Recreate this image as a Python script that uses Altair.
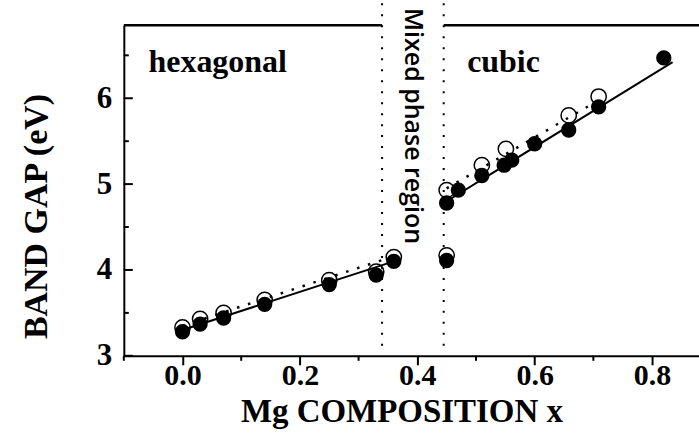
import altair as alt
import pandas as pd

# ---- data ----
filled_x = [0.0, 0.03, 0.07, 0.14, 0.25, 0.33, 0.36, 0.45, 0.45, 0.47, 0.51, 0.548, 0.561, 0.60, 0.658, 0.709, 0.82]
filled_y = [3.28, 3.37, 3.44, 3.60, 3.83, 3.94, 4.10, 4.11, 4.78, 4.93, 5.10, 5.22, 5.28, 5.47, 5.63, 5.90, 6.47]
open_x = [0.0, 0.03, 0.07, 0.14, 0.25, 0.33, 0.36, 0.45, 0.45, 0.51, 0.551, 0.658, 0.709]
open_y = [3.33, 3.43, 3.50, 3.65, 3.88, 3.98, 4.15, 4.17, 4.93, 5.22, 5.41, 5.80, 6.02]

solid_fit_x = [0.0, 0.36, 0.45, 0.835]
solid_fit_y = [3.30, 4.10, 4.80, 6.42]
solid_fit_seg = ["hex", "hex", "cub", "cub"]
dotted_fit_x = [0.0, 0.36, 0.45, 0.72]
dotted_fit_y = [3.35, 4.16, 4.95, 6.02]
dotted_fit_seg = ["hex", "hex", "cub", "cub"]

phase_bounds = [0.34, 0.445]
border_start = [-0.1, 0.445]
border_end = [0.34, 0.88]

x_ticks = [0.0, 0.2, 0.4, 0.6, 0.8]
x_minor = [-0.1, 0.1, 0.3, 0.5, 0.7]
y_ticks = [3, 4, 5, 6]
y_minor = [3.5, 4.5, 5.5, 6.5]

phase_labels = ["hexagonal", "cubic"]
phase_label_x = [-0.058, 0.485]
phase_label_y = [6.30, 6.30]
region_label = ["Mixed phase region"]
region_label_x = [0.3925]
region_label_y = [7.05]

W, H = 576, 331
SERIF = "Liberation Serif"

xs = alt.Scale(domain=[-0.1, 0.88], nice=False, zero=False)
ys = alt.Scale(domain=[3, 6.85], nice=False, zero=False)

pts_f = pd.DataFrame({"x": filled_x, "y": filled_y})
pts_o = pd.DataFrame({"x": open_x, "y": open_y})
fit_s = pd.DataFrame({"x": solid_fit_x, "y": solid_fit_y, "seg": solid_fit_seg})
fit_d = pd.DataFrame({"x": dotted_fit_x, "y": dotted_fit_y, "seg": dotted_fit_seg})
bounds = pd.DataFrame({"x": phase_bounds})
border = pd.DataFrame({"x": border_start, "x2": border_end})
xminor = pd.DataFrame({"x": x_minor})
ymajor = pd.DataFrame({"y": y_ticks})
yminor = pd.DataFrame({"y": y_minor})
labels = pd.DataFrame({"t": phase_labels, "x": phase_label_x, "y": phase_label_y})
region = pd.DataFrame({"t": region_label, "x": region_label_x, "y": region_label_y})

x_axis = alt.Axis(
    values=x_ticks, format=".1f", title="Mg COMPOSITION x", grid=False,
    tickSize=9, tickWidth=2, tickColor="black",
    domainWidth=2, domainColor="black",
    labelFont=SERIF, labelFontWeight="bold", labelFontSize=30, labelColor="black",
    labelBaseline="alphabetic", labelPadding=20, labelFlush=False, labelOverlap=False,
    titleFont=SERIF, titleFontWeight="bold", titleFontSize=33, titleColor="black",
    titleBaseline="alphabetic", titleAlign="center", titleX=278, titleY=66,
)
y_axis = alt.Axis(
    values=y_ticks, format="d", title="BAND GAP (eV)", grid=False,
    ticks=False, tickSize=0,
    domainWidth=2, domainColor="black",
    labelFont=SERIF, labelFontWeight="bold", labelFontSize=31, labelColor="black",
    labelPadding=12, labelFlush=False, labelOverlap=False,
    titleFont=SERIF, titleFontWeight="bold", titleFontSize=34, titleColor="black",
    titleBaseline="alphabetic", titleAlign="center", titleAngle=270,
    titleX=-77, titleY=191,
)


def X(field="x:Q"):
    return alt.X(field, scale=xs, axis=x_axis)


def Y(field="y:Q"):
    return alt.Y(field, scale=ys, axis=y_axis)


open_layer = alt.Chart(pts_o).mark_circle(
    size=235, color="white", stroke="black", strokeWidth=1.5, opacity=1
).encode(x=X(), y=Y())

dotted_layer = alt.Chart(fit_d).mark_line(
    color="black", strokeWidth=2.5, strokeDash=[2.5, 9]
).encode(x=X(), y=Y(), detail="seg:N")

filled_layer = alt.Chart(pts_f).mark_circle(
    size=235, color="black", opacity=1
).encode(x=X(), y=Y())

solid_layer = alt.Chart(fit_s).mark_line(
    color="black", strokeWidth=2
).encode(x=X(), y=Y(), detail="seg:N")

border_layer = alt.Chart(border).mark_rule(color="black", strokeWidth=2.5).encode(
    x=X(), x2="x2:Q", y=alt.value(0)
)

bounds_layer = alt.Chart(bounds).mark_rule(
    color="black", strokeWidth=2, strokeDash=[2, 9]
).encode(x=X(), y=alt.value(-22), y2=alt.value(324))

xminor_layer = alt.Chart(xminor).mark_rule(color="black", strokeWidth=2).encode(
    x=X(), y=alt.value(H), y2=alt.value(H + 5)
)
ymajor_layer = alt.Chart(ymajor).mark_rule(color="black", strokeWidth=2).encode(
    y=Y(), x=alt.value(0), x2=alt.value(9)
)
yminor_layer = alt.Chart(yminor).mark_rule(color="black", strokeWidth=2).encode(
    y=Y(), x=alt.value(0), x2=alt.value(5)
)

label_layer = alt.Chart(labels).mark_text(
    align="left", baseline="alphabetic", font=SERIF, fontWeight="bold", fontSize=32, color="black"
).encode(x=X(), y=Y(), text="t:N")

region_layer = alt.Chart(region).mark_text(
    align="left", baseline="middle", angle=90, font="Open Sans", fontSize=25,
    fontWeight=600, color="black"
).encode(x=X(), y=Y(), text="t:N")

chart = alt.layer(
    open_layer, dotted_layer, filled_layer, solid_layer,
    border_layer, bounds_layer, xminor_layer, ymajor_layer, yminor_layer,
    label_layer, region_layer,
).properties(
    width=W, height=H,
    autosize=alt.AutoSizeParams(type="none"),
    padding={"left": 124, "top": 25, "right": 0, "bottom": 82},
    background="white",
).configure_view(strokeWidth=0)

chart.save("out.html", embed_options={"renderer": "svg", "actions": False})
